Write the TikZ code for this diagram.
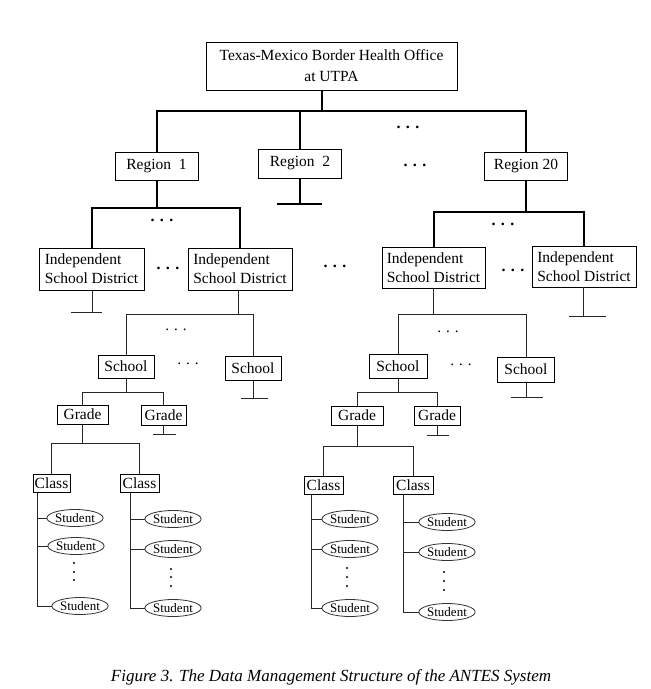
\documentclass[tikz,border=0pt]{standalone}
\usepackage{fontspec}
\setmainfont{Liberation Serif}
\usetikzlibrary{shapes.geometric}
\begin{document}
\begin{tikzpicture}[x=1pt, y=-1pt, line join=miter,
    box/.style={draw, line width=0.9pt, inner sep=0pt, font=\fontsize{15.5}{19}\selectfont},
    stud/.style={draw=black!80, ellipse, line width=0.8pt, minimum width=56, minimum height=17,
                 inner sep=0pt, font=\fontsize{13}{14}\selectfont},
    bold/.style={line width=2pt},
    thin/.style={line width=0.9pt, black!85},
    bdots/.style={inner sep=0pt, font=\fontsize{16}{16}\selectfont\bfseries},
    sdots/.style={inner sep=0pt, font=\fontsize{15}{15}\selectfont}]
  \useasboundingbox (0,0) rectangle (651,689);
  % --- office ----------------------------------------------------
  \node[box, minimum width=251, minimum height=48, align=center, font=\fontsize{15.5}{21}\selectfont]
    (top) at (331.5,66) {Texas-Mexico Border Health Office\\at UTPA};
  % --- regions ---------------------------------------------------
  \node[box, minimum width=83, minimum height=28] (r1) at (156.5,166) {Region\ \ 1};
  \node[box, minimum width=83, minimum height=29] (r2) at (300,163.5) {Region\ \ 2};
  \node[box, minimum width=83, minimum height=28] (r20) at (526,166) {Region 20};
  \node[bdots] (d1) at (408,127) {. . .};
  \node[bdots] (d2) at (415,165) {. . .};
  % --- districts -------------------------------------------------
  \node[box, minimum width=105, minimum height=42, align=left] (isd1) at (91.5,269) {Independent\\School District};
  \node[box, minimum width=104, minimum height=42, align=left] (isd2) at (240,269) {Independent\\School District};
  \node[box, minimum width=103, minimum height=41, align=left] (isd3) at (433.5,267.5) {Independent\\School District};
  \node[box, minimum width=104, minimum height=41, align=left] (isd4) at (584,266.5) {Independent\\School District};
  \node[bdots] (d3) at (162,220) {. . .};
  \node[bdots] (d4) at (168,268) {. . .};
  \node[bdots] (d5) at (335,266) {. . .};
  \node[bdots] (d6) at (503,224) {. . .};
  \node[bdots] (d7) at (513,270) {. . .};
  % --- schools ---------------------------------------------------
  \node[box, minimum width=56, minimum height=23] (sc1) at (126,366.5) {School};
  \node[box, minimum width=56, minimum height=24] (sc2) at (253,368) {School};
  \node[box, minimum width=58, minimum height=24] (sc3) at (398,366) {School};
  \node[box, minimum width=57, minimum height=25] (sc4) at (526,369.5) {School};
  \node[sdots] (d8) at (176,330) {. . .};
  \node[sdots] (d9) at (188,364) {. . .};
  \node[sdots] (d10) at (448,332) {. . .};
  \node[sdots] (d11) at (461,365) {. . .};
  % --- grades ----------------------------------------------------
  \node[box, minimum width=51, minimum height=19] (g1) at (82.5,414.5) {Grade};
  \node[box, minimum width=45, minimum height=20] (g2) at (163.5,415) {Grade};
  \node[box, minimum width=52, minimum height=19] (g3) at (357,415.5) {Grade};
  \node[box, minimum width=46, minimum height=19] (g4) at (437,415.5) {Grade};
  % --- classes ---------------------------------------------------
  \node[box, minimum width=37, minimum height=18] (c1) at (51.5,483) {Class};
  \node[box, minimum width=39, minimum height=18] (c2) at (139.5,483) {Class};
  \node[box, minimum width=39, minimum height=18] (c3) at (323.5,485) {Class};
  \node[box, minimum width=40, minimum height=18] (c4) at (413,485) {Class};
  % --- students --------------------------------------------------
  \node[stud] (s11) at (75,518) {Student};
  \node[stud] (s12) at (76,546) {Student};
  \node[stud] (s13) at (80,606) {Student};
  \node[stud] (s21) at (173,519) {Student};
  \node[stud] (s22) at (173,549) {Student};
  \node[stud] (s23) at (173,608) {Student};
  \node[stud] (s31) at (350,519) {Student};
  \node[stud] (s32) at (350,549) {Student};
  \node[stud] (s33) at (350,608) {Student};
  \node[stud] (s41) at (447,522) {Student};
  \node[stud] (s42) at (447,552) {Student};
  \node[stud] (s43) at (447,612) {Student};
  \fill (74,563) circle [radius=1.2] (74,572) circle [radius=1.2] (74,580) circle [radius=1.2];
  \fill (171,569) circle [radius=1.2] (171,577) circle [radius=1.2] (171,586) circle [radius=1.2];
  \fill (347,568) circle [radius=1.2] (347,577) circle [radius=1.2] (347,586) circle [radius=1.2];
  \fill (444,572) circle [radius=1.2] (444,581) circle [radius=1.2] (444,590) circle [radius=1.2];
  % --- office to regions -----------------------------------------
  \draw[bold] ([xshift=-9.5]top.south) -- ++(0,21) coordinate (b0);
  \draw[bold] (r1.north) |- (b0) -| (r20.north);
  \draw[bold] (r2.north) -- (r2.north |- b0);
  \coordinate (r2stub) at (300,204);
  \draw[bold] (r2.south) -- (r2stub);
  \draw[bold] ([xshift=-23]r2stub) -- ([xshift=22]r2stub);
  % --- regions to districts --------------------------------------
  \draw[bold] (r1.south) -- ++(0,28) coordinate (b1);
  \draw[bold] (isd1.north) |- (b1) -| (isd2.north);
  \draw[bold] (r20.south) -- ++(0,32) coordinate (b20);
  \draw[bold] (isd3.north) |- (b20) -| (isd4.north);
  \coordinate (isd1stub) at (92,312);
  \draw[thin] (isd1.south -| isd1stub) -- (isd1stub);
  \draw[thin] ([xshift=-21]isd1stub) -- ([xshift=10]isd1stub);
  \coordinate (isd4stub) at (583,316);
  \draw[thin] (isd4.south -| isd4stub) -- (isd4stub);
  \draw[thin] ([xshift=-14]isd4stub) -- ([xshift=23]isd4stub);
  % --- districts to schools --------------------------------------
  \draw[thin] ([xshift=-2]isd2.south) -- ++(0,24) coordinate (b2);
  \draw[thin] (sc1.north) |- (b2) -| (sc2.north);
  \draw[thin] (isd3.south) -- ++(0,26) coordinate (b3);
  \draw[thin] (sc3.north) |- (b3) -| (sc4.north);
  \coordinate (sc2stub) at (253,398);
  \draw[thin] (sc2.south) -- (sc2stub);
  \draw[thin] ([xshift=-12]sc2stub) -- ([xshift=15]sc2stub);
  \coordinate (sc4stub) at (526,397);
  \draw[thin] (sc4.south) -- (sc4stub);
  \draw[thin] ([xshift=-15]sc4stub) -- ([xshift=17]sc4stub);
  % --- schools to grades -----------------------------------------
  \draw[thin] (sc1.south) -- ++(0,14) coordinate (b4);
  \draw[thin] (g1.north) |- (b4) -| (g2.north);
  \draw[thin] (sc3.south) -- ++(0,14) coordinate (b5);
  \draw[thin] (g3.north) |- (b5) -| (g4.north);
  \coordinate (g2stub) at (163.5,434);
  \draw[thin] (g2.south) -- (g2stub);
  \draw[thin] ([xshift=-11]g2stub) -- ([xshift=12]g2stub);
  \coordinate (g4stub) at (437,435);
  \draw[thin] (g4.south) -- (g4stub);
  \draw[thin] ([xshift=-10]g4stub) -- ([xshift=12]g4stub);
  % --- grades to classes -----------------------------------------
  \draw[thin] (g1.south) -- ++(0,19) coordinate (b6);
  \draw[thin] (c1.north) |- (b6) -| (c2.north);
  \draw[thin] (g3.south) -- ++(0,21) coordinate (b7);
  \draw[thin] (c3.north) |- (b7) -| (c4.north);
  % --- classes to students ---------------------------------------
  \draw[thin] ([xshift=-14.5]c1.south) coordinate (c1a) |- (s13.west);
  \draw[thin] (s11.west) -- (s11.west -| c1a);
  \draw[thin] (s12.west) -- (s12.west -| c1a);
  \draw[thin] ([xshift=-9.5]c2.south) coordinate (c2a) |- (s23.west);
  \draw[thin] (s21.west) -- (s21.west -| c2a);
  \draw[thin] (s22.west) -- (s22.west -| c2a);
  \draw[thin] ([xshift=-12.5]c3.south) coordinate (c3a) |- (s33.west);
  \draw[thin] (s31.west) -- (s31.west -| c3a);
  \draw[thin] (s32.west) -- (s32.west -| c3a);
  \draw[thin] ([xshift=-10]c4.south) coordinate (c4a) |- (s43.west);
  \draw[thin] (s41.west) -- (s41.west -| c4a);
  \draw[thin] (s42.west) -- (s42.west -| c4a);
  % --- caption ---------------------------------------------------
  \node[font=\fontsize{17}{17}\selectfont\itshape] (cap) at (331,677)
    {Figure 3. The Data Management Structure of the ANTES System};
\end{tikzpicture}
\end{document}
